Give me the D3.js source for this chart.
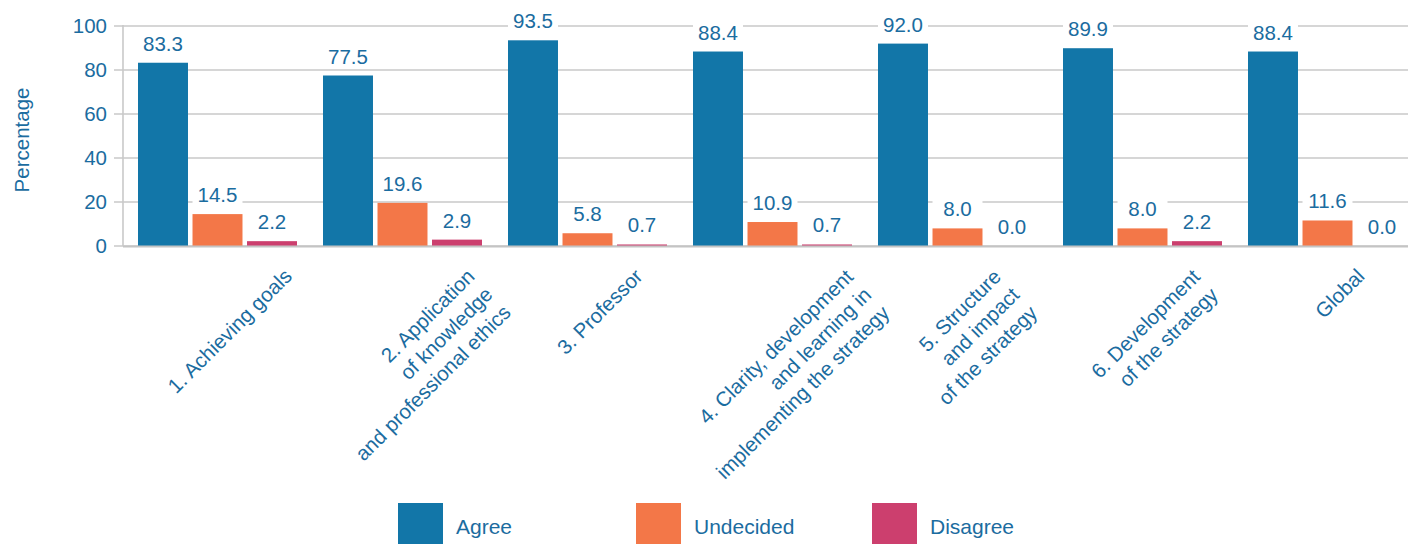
<!DOCTYPE html>
<html>
<head>
<meta charset="utf-8">
<script src="https://cdn.jsdelivr.net/npm/d3@7"></script>
<style>
	html, body { margin: 0; padding: 0; background: #fff; }
	svg { display: block; font-family: 'Liberation Sans', Arial, sans-serif; }
</style>
</head>
<body>
<div id="chart"></div>
<script>
// data
const categories = [
	'1. Achieving goals',
	'2. Application\nof knowledge\nand professional ethics',
	'3. Professor',
	'4. Clarity, development\nand learning in\nimplementing the strategy',
	'5. Structure\nand impact\nof the strategy',
	'6. Development\nof the strategy',
	'Global'
];
const series = ['Agree', 'Undecided', 'Disagree'];
const agree = [83.3, 77.5, 93.5, 88.4, 92.0, 89.9, 88.4];
const undecided = [14.5, 19.6, 5.8, 10.9, 8.0, 8.0, 11.6];
const disagree = [2.2, 2.9, 0.7, 0.7, 0.0, 2.2, 0.0];
const yTicks = [0, 20, 40, 60, 80, 100];

const WIDTH = 1408;
const HEIGHT = 544;
const FONT_SIZE = '20.5px';
const TEXT_COLOR = '#1b6ca0';
const GRID_COLOR = '#c9c9c9';
const colors = { Agree: '#1276a8', Undecided: '#f37748', Disagree: '#cc3f6e' };
const LABEL_TOP = 264;

const values = [agree, undecided, disagree];

const svg = d3.select('#chart').append('svg')
	.attr('width', WIDTH)
	.attr('height', HEIGHT);

const y = d3.scaleLinear().domain([0, 100]).range([246, 26]);
const x0 = d3.scaleBand().domain(categories).range([125, 125 + 7 * 185]);
const x1 = d3.scaleBand().domain(series).range([13, 172]).paddingInner(0.083);

// grid + y axis
const yAxis = d3.axisLeft(y).tickValues(yTicks).tickSize(0).tickPadding(16);
const ya = svg.append('g').attr('transform', 'translate(123,0)').call(yAxis);
ya.select('.domain').remove();
ya.selectAll('.tick text')
	.attr('fill', TEXT_COLOR)
	.style('font-size', FONT_SIZE)
	.style('font-family', "'Liberation Sans', Arial, sans-serif");

svg.append('g').selectAll('line.grid')
	.data(yTicks)
	.enter()
	.append('line')
		.attr('class', 'grid')
		.attr('x1', 114)
		.attr('x2', WIDTH)
		.attr('y1', d => y(d))
		.attr('y2', d => y(d))
		.attr('stroke', GRID_COLOR)
		.attr('stroke-width', 1.6);

svg.append('line')
	.attr('x1', 123).attr('x2', 123)
	.attr('y1', y(100) - 1).attr('y2', y(0))
	.attr('stroke', GRID_COLOR)
	.attr('stroke-width', 1.6);

// bars
const groups = svg.append('g').selectAll('g.group')
	.data(categories)
	.enter()
	.append('g')
		.attr('class', 'group')
		.attr('transform', d => 'translate(' + x0(d) + ',0)');

groups.each(function (cat, i) {
	const g = d3.select(this);
	const items = series.map((s, k) => ({ s: s, v: values[k][i] }));
	g.selectAll('rect.bar')
		.data(items)
		.enter()
		.append('rect')
			.attr('class', 'bar')
			.attr('x', d => x1(d.s))
			.attr('width', x1.bandwidth())
			.attr('y', d => y(d.v))
			.attr('height', d => y(0) - y(d.v))
			.attr('fill', d => colors[d.s]);
	// label background knocks out the grid lines
	g.selectAll('rect.lbl-bg')
		.data(items)
		.enter()
		.append('rect')
			.attr('class', 'lbl-bg')
			.attr('x', d => x1(d.s))
			.attr('width', x1.bandwidth())
			.attr('y', d => y(d.v) - 12 - 17)
			.attr('height', 21)
			.attr('fill', '#fff');
	g.selectAll('text.val')
		.data(items)
		.enter()
		.append('text')
			.attr('class', 'val')
			.attr('x', d => x1(d.s) + x1.bandwidth() / 2)
			.attr('y', d => y(d.v) - 12)
			.attr('text-anchor', 'middle')
			.attr('fill', TEXT_COLOR)
			.style('font-size', FONT_SIZE)
			.text(d => d.v.toFixed(1));
});

// x axis baseline
svg.append('line')
	.attr('x1', 123).attr('x2', WIDTH)
	.attr('y1', y(0) + 0.5).attr('y2', y(0) + 0.5)
	.attr('stroke', '#c4c4c4')
	.attr('stroke-width', 2);

// rotated category labels, lines right aligned, block centred on the group
const xl = svg.append('g').attr('class', 'x-labels');
categories.forEach((cat) => {
	const g = xl.append('g');
	const t = g.append('text')
		.attr('text-anchor', 'end')
		.attr('fill', TEXT_COLOR)
		.style('font-size', FONT_SIZE);
	cat.split('\n').forEach((ln, j) => {
		t.append('tspan').attr('x', 0).attr('dy', j ? '1.25em' : 0).text(ln);
	});
	const bb = t.node().getBBox();
	const cx = x0(cat) + x0.bandwidth() / 2 + 12;
	const cy = LABEL_TOP + 0.354 * (bb.width + bb.height);
	g.attr('transform', 'translate(' + cx + ',' + cy + ') rotate(-45) translate(' +
		(-(bb.x + bb.width / 2)) + ',' + (-(bb.y + bb.height / 2)) + ')');
});

// y title
svg.append('text')
	.attr('transform', 'translate(29,140) rotate(-90)')
	.attr('text-anchor', 'middle')
	.attr('fill', TEXT_COLOR)
	.style('font-size', FONT_SIZE)
	.text('Percentage');

// legend
const legendX = d3.scaleOrdinal().domain(series).range([398, 636, 872]);
const legend = svg.append('g').attr('class', 'legend');
const li = legend.selectAll('g')
	.data(series)
	.enter()
	.append('g')
		.attr('transform', d => 'translate(' + legendX(d) + ',503)');
li.append('rect')
	.attr('width', 45)
	.attr('height', 45)
	.attr('fill', d => colors[d]);
li.append('text')
	.attr('x', 58)
	.attr('y', 31)
	.attr('fill', TEXT_COLOR)
	.style('font-size', '21px')
	.text(d => d);
</script>
</body>
</html>
